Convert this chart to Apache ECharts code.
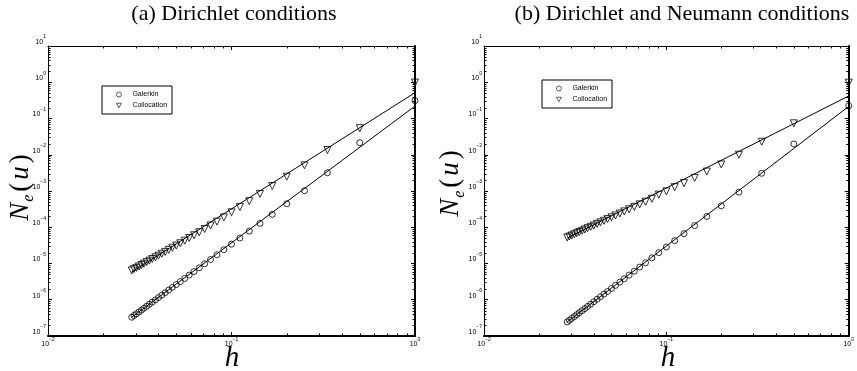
<!DOCTYPE html>
<html><head><meta charset="utf-8">
<script src="https://cdn.jsdelivr.net/npm/echarts@6/dist/echarts.min.js"></script>
<style>html,body{margin:0;padding:0;background:#fff}#c{width:857px;height:371px}</style>
</head><body><div id="c"></div>
<script>
const titles = ['(a) Dirichlet conditions', '(b) Dirichlet and Neumann conditions'];
const seriesNames = ['Galerkin', 'Collocation'];
const xAxisTitle = 'h';
// mesh size h
const h = [1, 0.5, 0.3333, 0.25, 0.2, 0.1667, 0.1429, 0.125, 0.1111, 0.1, 0.0909, 0.0833, 0.0769, 0.0714, 0.0667, 0.0625, 0.0588, 0.0556, 0.0526, 0.05, 0.0476, 0.0455, 0.0435, 0.0417, 0.04, 0.0385, 0.037, 0.0357, 0.0345, 0.0333, 0.0323, 0.0313, 0.0303, 0.0294, 0.0286];
// (a) Dirichlet
const galerkinA = [0.31, 0.0215, 3.2e-3, 1.02e-3, 4.46e-4, 2.27e-4, 1.28e-4, 7.83e-5, 5.06e-5, 3.42e-5, 2.40e-5, 1.74e-5, 1.29e-5, 9.83e-6, 7.61e-6, 6.00e-6, 4.79e-6, 3.88e-6, 3.17e-6, 2.62e-6, 2.19e-6, 1.85e-6, 1.56e-6, 1.34e-6, 1.15e-6, 9.92e-7, 8.63e-7, 7.54e-7, 6.62e-7, 5.84e-7, 5.17e-7, 4.60e-7, 4.10e-7, 3.67e-7, 3.29e-7];
const collocationA = [0.98, 0.054, 0.0135, 5.1e-3, 2.48e-3, 1.37e-3, 8.3e-4, 5.25e-4, 3.6e-4, 2.58e-4, 1.87e-4, 1.43e-4, 1.12e-4, 8.95e-5, 7.28e-5, 6.01e-5, 5.04e-5, 4.26e-5, 3.62e-5, 3.13e-5, 2.72e-5, 2.38e-5, 2.09e-5, 1.86e-5, 1.65e-5, 1.48e-5, 1.33e-5, 1.20e-5, 1.09e-5, 9.9e-6, 9.06e-6, 8.28e-6, 7.57e-6, 7.0e-6, 6.44e-6];
// (b) Dirichlet and Neumann
const galerkinB = [0.225, 0.0198, 3.08e-3, 9.3e-4, 3.9e-4, 1.99e-4, 1.11e-4, 6.67e-5, 4.26e-5, 2.86e-5, 1.99e-5, 1.43e-5, 1.05e-5, 7.96e-6, 6.12e-6, 4.79e-6, 3.80e-6, 3.06e-6, 2.49e-6, 2.05e-6, 1.70e-6, 1.43e-6, 1.21e-6, 1.03e-6, 8.79e-7, 7.57e-7, 6.57e-7, 5.71e-7, 5.0e-7, 4.39e-7, 3.88e-7, 3.44e-7, 3.06e-7, 2.73e-7, 2.45e-7];
const collocationB = [0.97, 0.0736, 0.0229, 0.0100, 5.4e-3, 3.45e-3, 2.3e-3, 1.65e-3, 1.28e-3, 9.8e-4, 7.9e-4, 6.1e-4, 5.06e-4, 4.28e-4, 3.65e-4, 3.14e-4, 2.74e-4, 2.40e-4, 2.11e-4, 1.88e-4, 1.68e-4, 1.51e-4, 1.36e-4, 1.24e-4, 1.12e-4, 1.03e-4, 9.44e-5, 8.68e-5, 8.02e-5, 7.41e-5, 6.87e-5, 6.38e-5, 5.93e-5, 5.56e-5, 5.19e-5];
// fitted reference lines (end points)
const fitH = [0.0286, 1];
const fitGalerkinA = [3.3e-7, 0.22];
const fitCollocationA = [5.8e-6, 0.515];
const fitGalerkinB = [2.45e-7, 0.215];
const fitCollocationB = [5.0e-5, 0.418];
// axis ranges
const xRange = [0.01, 1];
const yRange = [1e-7, 10];

const zip = (xs, ys) => xs.map((x, i) => [x, ys[i]]);
const xMinor = [], yMinor = [];
for (let e = -2; e < 0; e++) for (let k = 2; k <= 9; k++) xMinor.push(k * Math.pow(10, e));
for (let e = -7; e < 1; e++) for (let k = 2; k <= 9; k++) yMinor.push(k * Math.pow(10, e));

const SANS = 'Liberation Sans', SERIF = 'Liberation Serif';
const expLabel = v => '{b|10}{s|' + String(Math.round(Math.log10(v))).replace('-', '\u2212') + '}';
const rich = {
  b: { fontSize: 7, lineHeight: 7, fontFamily: SANS, color: '#000', verticalAlign: 'bottom', padding: [0, 0, 4, 0] },
  s: { fontSize: 5, lineHeight: 5, fontFamily: SANS, color: '#000', verticalAlign: 'bottom', padding: [0, 0, 10, 0] }
};
const richX = {
  b: { fontSize: 7, lineHeight: 7, fontFamily: SANS, color: '#000', verticalAlign: 'bottom' },
  s: { fontSize: 5, lineHeight: 5, fontFamily: SANS, color: '#000', verticalAlign: 'bottom', padding: [0, 0, 6, 0] }
};

const grids = [
  { left: 48, top: 46, width: 367, height: 290 },
  { left: 484, top: 46, width: 367, height: 290 }
];
const xAxes = [], yAxes = [];
grids.forEach((g, gi) => {
  ['bottom', 'top'].forEach(pos => xAxes.push({
    type: 'log', logBase: 10, gridIndex: gi, min: xRange[0], max: xRange[1], position: pos,
    axisLine: { show: true, onZero: false, lineStyle: { color: '#000', width: pos === 'bottom' ? 2 : 1 } },
    axisTick: { show: true, inside: true, length: 4, lineStyle: { color: '#000', width: 1 } },
    axisLabel: { show: pos === 'bottom', margin: 5, formatter: expLabel, rich: richX },
    splitLine: { show: false }
  }));
  ['left', 'right'].forEach(pos => yAxes.push({
    type: 'log', logBase: 10, gridIndex: gi, min: yRange[0], max: yRange[1], position: pos,
    axisLine: { show: true, onZero: false, lineStyle: { color: '#000', width: pos === 'right' ? 2 : 1 } },
    axisTick: { show: true, inside: true, length: 4, lineStyle: { color: '#000', width: 1 } },
    axisLabel: { show: pos === 'left', margin: 2, formatter: expLabel, rich },
    splitLine: { show: false }
  }));
});

function minorTicks(gi) {
  const data = xMinor.map(v => [v, 1, 0]).concat(yMinor.map(v => [0.1, v, 1]));
  return {
    type: 'custom', xAxisIndex: gi * 2, yAxisIndex: gi * 2, silent: true, z: 1, data,
    encode: { x: 0, y: 1 },
    renderItem(params, api) {
      const cs = params.coordSys, L = 2.5, st = { stroke: '#000', lineWidth: 1 };
      if (api.value(2) === 0) {
        const x = Math.round(api.coord([api.value(0), 1])[0]) + 0.5;
        const b = cs.y + cs.height;
        return { type: 'group', children: [
          { type: 'line', shape: { x1: x, y1: b, x2: x, y2: b - L }, style: st },
          { type: 'line', shape: { x1: x, y1: cs.y, x2: x, y2: cs.y + L }, style: st }] };
      }
      const y = Math.round(api.coord([0.1, api.value(1)])[1]) + 0.5;
      const r = cs.x + cs.width;
      return { type: 'group', children: [
        { type: 'line', shape: { x1: cs.x, y1: y, x2: cs.x + L, y2: y }, style: st },
        { type: 'line', shape: { x1: r, y1: y, x2: r - L, y2: y }, style: st }] };
    }
  };
}

const markerStyle = { color: 'transparent', borderColor: '#000', borderWidth: 1 };
function panelSeries(gi, gal, col, fitG, fitC) {
  const ax = { xAxisIndex: gi * 2, yAxisIndex: gi * 2 };
  return [
    Object.assign({ type: 'line', name: 'fitG' + gi, data: zip(fitH, fitG), symbol: 'none', lineStyle: { color: '#000', width: 1 }, z: 2, silent: true }, ax),
    Object.assign({ type: 'line', name: 'fitC' + gi, data: zip(fitH, fitC), symbol: 'none', lineStyle: { color: '#000', width: 1 }, z: 2, silent: true }, ax),
    Object.assign({ type: 'scatter', name: seriesNames[0], data: zip(h, gal), symbol: 'circle', symbolSize: 6, itemStyle: markerStyle, z: 3 }, ax),
    Object.assign({ type: 'scatter', name: seriesNames[1], data: zip(h, col), symbol: 'triangle', symbolRotate: 180, symbolSize: 7, itemStyle: markerStyle, z: 3 }, ax),
    minorTicks(gi)
  ];
}

const legendBase = {
  orient: 'vertical', itemWidth: 5, itemHeight: 5, itemGap: 4,
  padding: [5, 5, 5, 14], borderColor: '#000', borderWidth: 1, backgroundColor: '#fff',
  itemStyle: { color: 'transparent', borderColor: '#000', borderWidth: 0.8 },
  textStyle: { fontFamily: SANS, fontSize: 7, lineHeight: 7, color: '#000', padding: [0, 0, 0, 6] },
  data: [{ name: seriesNames[0], icon: 'circle' }, { name: seriesNames[1], icon: 'path://M0,0L10,0L5,9Z' }],
  selectedMode: false
};

const neLabel = '{i|N}{s|e}{p|(}{i|u}{p|)}';
const neRich = {
  i: { fontFamily: SERIF, fontStyle: 'italic', fontSize: 27, lineHeight: 27, verticalAlign: 'bottom', padding: [0, 1, 3, 1], fill: '#000' },
  p: { fontFamily: SERIF, fontSize: 27, lineHeight: 27, verticalAlign: 'bottom', padding: [0, 2, 3, 2], fill: '#000' },
  s: { fontFamily: SERIF, fontStyle: 'italic', fontSize: 16, lineHeight: 16, verticalAlign: 'bottom', padding: [0, 1, 0, 0], fill: '#000' }
};

const chart = echarts.init(document.getElementById('c'), null, { renderer: 'canvas' });
chart.setOption({
  animation: false,
  backgroundColor: '#fff',
  title: titles.map((t, i) => ({
    text: t, left: i === 0 ? 234 : 682, top: 3, padding: 0, textAlign: 'center',
    textStyle: { fontFamily: SERIF, fontSize: 22, fontWeight: 'normal', color: '#000' }
  })),
  grid: grids,
  xAxis: xAxes,
  yAxis: yAxes,
  legend: [
    Object.assign({}, legendBase, { left: 102, top: 86 }),
    Object.assign({}, legendBase, { left: 542, top: 80 })
  ],
  graphic: [
    { type: 'text', x: 23.5, y: 187, rotation: Math.PI / 2, style: { text: neLabel, rich: neRich, align: 'center', verticalAlign: 'middle' } },
    { type: 'text', x: 454, y: 183, rotation: Math.PI / 2, style: { text: neLabel, rich: neRich, align: 'center', verticalAlign: 'middle' } },
    { type: 'text', x: 232, y: 358, style: { text: xAxisTitle, fontFamily: SERIF, fontStyle: 'italic', fontSize: 29, fill: '#000', align: 'center', verticalAlign: 'middle' } },
    { type: 'text', x: 668, y: 358, style: { text: xAxisTitle, fontFamily: SERIF, fontStyle: 'italic', fontSize: 29, fill: '#000', align: 'center', verticalAlign: 'middle' } }
  ],
  series: panelSeries(0, galerkinA, collocationA, fitGalerkinA, fitCollocationA)
    .concat(panelSeries(1, galerkinB, collocationB, fitGalerkinB, fitCollocationB))
});
</script>
</body></html>
